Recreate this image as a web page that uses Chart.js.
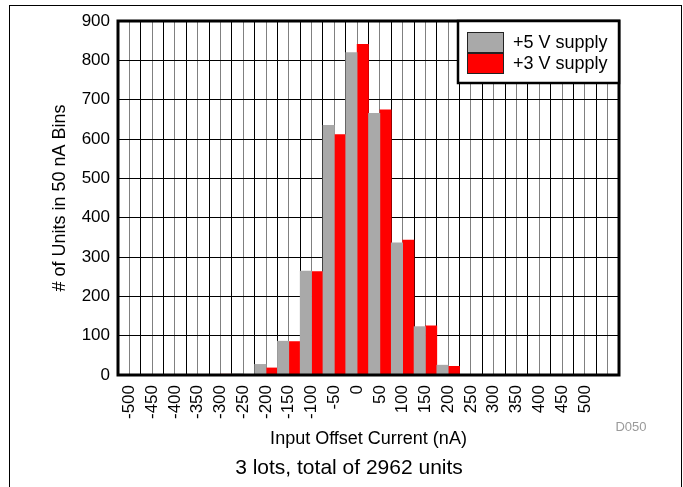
<!DOCTYPE html>
<html>
<head>
<meta charset="utf-8">
<script src="https://cdn.jsdelivr.net/npm/chart.js@4.4.1/dist/chart.umd.min.js"></script>
<style>
  body { margin: 0; background: #fff; overflow: hidden; }
  #frame { position: absolute; left: 9px; top: 5px; width: 671px; height: 600px; border: 1px solid #000; }
  #histogram { position: absolute; left: 0; top: 0; }
</style>
</head>
<body>
<div id="frame"></div>
<canvas id="histogram" width="683" height="487"></canvas>
<script>
// 50 nA bins from -500 nA up to +550 nA, the last bin carries no label
const bins = ['-500', '-450', '-400', '-350', '-300', '-250', '-200', '-150', '-100', '-50', '0',
              '50', '100', '150', '200', '250', '300', '350', '400', '450', '500', '']
const supply5V = [0, 0, 0, 0, 0, 3, 27, 86, 264, 635, 820, 665, 336, 123, 25, 0, 0, 0, 0, 0, 0, 0]
const supply3V = [0, 0, 0, 0, 2, 1, 18, 85, 263, 611, 841, 674, 343, 125, 22, 0, 0, 0, 0, 0, 0, 0]
const countTicks = [0, 100, 200, 300, 400, 500, 600, 700, 800, 900]

const seriesNames = ['+5 V supply', '+3 V supply']
const note = '3 lots, total of 2962 units'
const figId = 'D050'

const FONT = '"Liberation Sans", Arial, sans-serif'
Chart.defaults.font.family = FONT
Chart.defaults.color = '#000'

// frame, legend and the small captions
const decorations = {
    id: 'decorations',
    afterDatasetsDraw(chart) {
        const ctx = chart.ctx
        const a = chart.chartArea
        ctx.save()

        ctx.lineWidth = 3
        ctx.strokeStyle = '#000'
        ctx.strokeRect(a.left, a.top, a.right - a.left, a.bottom - a.top)

        // legend box in the top right corner
        const lx = a.right - 161
        const ly = a.top
        ctx.fillStyle = '#fff'
        ctx.fillRect(lx, ly, a.right - lx, 62)
        ctx.lineWidth = 2.5
        ctx.strokeRect(lx, ly, a.right - lx, 62)

        ctx.font = '18px ' + FONT
        ctx.textBaseline = 'middle'
        ctx.textAlign = 'left'
        chart.data.datasets.forEach(function(ds, i) {
            const y = ly + 11 + i * 21
            ctx.fillStyle = ds.backgroundColor
            ctx.fillRect(lx + 9, y, 37, 21)
            ctx.lineWidth = 1
            ctx.strokeStyle = '#222'
            ctx.strokeRect(lx + 9.5, y + 0.5, 36, 20)
            ctx.fillStyle = '#000'
            ctx.fillText(ds.label, lx + 55, y + 11.5)
        })

        ctx.textAlign = 'center'
        ctx.fillStyle = '#9a9a9a'
        ctx.font = '13px ' + FONT
        ctx.fillText(figId, 631, 427)

        ctx.fillStyle = '#000'
        ctx.font = '21px ' + FONT
        ctx.fillText(note, 349, 468)

        ctx.restore()
    }
}

new Chart(document.getElementById('histogram'), {
    type: 'bar',
    data: {
        labels: bins,
        datasets: [{
            label: seriesNames[0],
            data: supply5V,
            backgroundColor: '#a9a9a9',
            barPercentage: 1,
            categoryPercentage: 1
        }, {
            label: seriesNames[1],
            data: supply3V,
            backgroundColor: '#ff0000',
            barPercentage: 1,
            categoryPercentage: 1
        }]
    },
    options: {
        responsive: false,
        animation: false,
        events: [],
        layout: {
            padding: { left: 0, right: 64, top: 21, bottom: 0 }
        },
        plugins: {
            legend: { display: false },
            tooltip: { enabled: false }
        },
        scales: {
            x: {
                offset: true,
                grid: { offset: true, color: '#000', lineWidth: 1, drawTicks: false },
                border: { display: false },
                ticks: {
                    autoSkip: false,
                    minRotation: 90,
                    maxRotation: 90,
                    padding: 10,
                    font: { size: 17 }
                },
                title: {
                    display: true,
                    text: 'Input Offset Current (nA)',
                    font: { size: 18 },
                    padding: { top: 0, bottom: 37 }
                },
                afterFit: function(s) { s.height = 112 }
            },
            xCenters: {
                type: 'category',
                position: 'top',
                offset: true,
                grid: { offset: false, color: '#808080', lineWidth: 1, drawTicks: false },
                border: { display: false },
                ticks: { display: false },
                afterFit: function(s) { s.height = 0 }
            },
            y: {
                min: 0,
                max: 900,
                grid: { color: '#000', lineWidth: 1, drawTicks: false },
                border: { display: false },
                ticks: { padding: 8, font: { size: 17 } },
                afterBuildTicks: function(s) {
                    s.ticks = countTicks.map(function(v) { return { value: v } })
                },
                title: {
                    display: true,
                    text: '# of Units in 50 nA Bins',
                    font: { size: 18 },
                    padding: { top: 49, bottom: 0 }
                },
                afterFit: function(s) { s.width = 118 }
            }
        }
    },
    plugins: [decorations]
})
</script>
</body>
</html>
